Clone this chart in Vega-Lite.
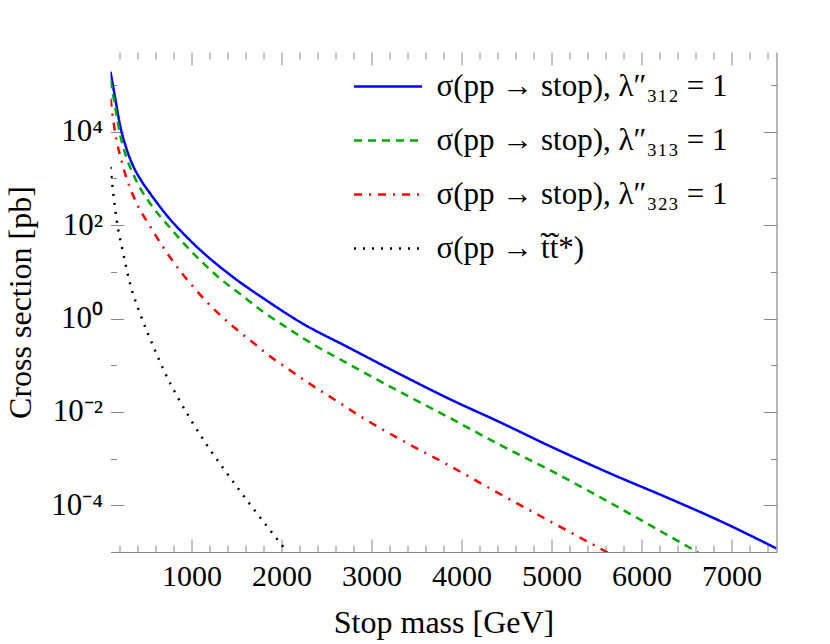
{
  "$schema": "https://vega.github.io/schema/vega-lite/v6.json",
  "width": 666,
  "height": 500,
  "autosize": "none",
  "padding": {"left": 110.5, "top": 52, "right": 53.5, "bottom": 92},
  "background": "white",
  "config": {
    "view": {"stroke": null},
    "font": "Liberation Serif",
    "axis": {"labelFont": "Liberation Serif", "titleFont": "Liberation Serif", "labelColor": "black", "titleColor": "black", "titleFontWeight": "normal", "grid": false, "domainColor": "#888888", "tickColor": "#888888", "tickWidth": 1, "domainWidth": 1.2},
    "legend": {"labelFont": "Liberation Serif", "labelFontSize": 31, "labelColor": "black"}
  },
  "data": {
    "values": [
      {"s": "312", "m": 100, "xs": 192750},
      {"s": "312", "m": 156, "xs": 47320},
      {"s": "312", "m": 206, "xs": 13770},
      {"s": "312", "m": 276, "xs": 4436},
      {"s": "312", "m": 353, "xs": 1824},
      {"s": "312", "m": 439, "xs": 914},
      {"s": "312", "m": 539, "xs": 482},
      {"s": "312", "m": 724, "xs": 163},
      {"s": "312", "m": 983, "xs": 47.5},
      {"s": "312", "m": 1459, "xs": 7.78},
      {"s": "312", "m": 1830, "xs": 2.466},
      {"s": "312", "m": 2200, "xs": 0.855},
      {"s": "312", "m": 2761, "xs": 0.231},
      {"s": "312", "m": 3317, "xs": 0.0641},
      {"s": "312", "m": 3872, "xs": 0.0187},
      {"s": "312", "m": 4428, "xs": 0.00601},
      {"s": "312", "m": 4983, "xs": 0.001845},
      {"s": "312", "m": 5613, "xs": 0.000519},
      {"s": "312", "m": 6353, "xs": 0.0001285},
      {"s": "312", "m": 6872, "xs": 0.0000463},
      {"s": "312", "m": 7500, "xs": 0.0000119},
      {"s": "313", "m": 100, "xs": 126800},
      {"s": "313", "m": 156, "xs": 30340},
      {"s": "313", "m": 206, "xs": 8830},
      {"s": "313", "m": 276, "xs": 2844},
      {"s": "313", "m": 353, "xs": 1230},
      {"s": "313", "m": 439, "xs": 573},
      {"s": "313", "m": 539, "xs": 294},
      {"s": "313", "m": 761, "xs": 87.9},
      {"s": "313", "m": 1076, "xs": 19.3},
      {"s": "313", "m": 1317, "xs": 7.19},
      {"s": "313", "m": 1558, "xs": 3.15},
      {"s": "313", "m": 1798, "xs": 1.384},
      {"s": "313", "m": 2058, "xs": 0.641},
      {"s": "313", "m": 2336, "xs": 0.2915},
      {"s": "313", "m": 2650, "xs": 0.134},
      {"s": "313", "m": 3317, "xs": 0.0268},
      {"s": "313", "m": 3861, "xs": 0.00759},
      {"s": "313", "m": 4420, "xs": 0.002004},
      {"s": "313", "m": 4983, "xs": 0.000565},
      {"s": "313", "m": 5547, "xs": 0.0001469},
      {"s": "313", "m": 6094, "xs": 0.0000375},
      {"s": "313", "m": 6631, "xs": 0.00000975},
      {"s": "323", "m": 100, "xs": 50900},
      {"s": "323", "m": 144, "xs": 11890},
      {"s": "323", "m": 242, "xs": 1738},
      {"s": "323", "m": 391, "xs": 294},
      {"s": "323", "m": 539, "xs": 94.7},
      {"s": "323", "m": 761, "xs": 20.5},
      {"s": "323", "m": 1020, "xs": 4.75},
      {"s": "323", "m": 1281, "xs": 1.384},
      {"s": "323", "m": 1476, "xs": 0.641},
      {"s": "323", "m": 1676, "xs": 0.3155},
      {"s": "323", "m": 1872, "xs": 0.156},
      {"s": "323", "m": 2083, "xs": 0.0809},
      {"s": "323", "m": 2298, "xs": 0.0418},
      {"s": "323", "m": 2502, "xs": 0.0236},
      {"s": "323", "m": 2947, "xs": 0.00664},
      {"s": "323", "m": 3391, "xs": 0.002168},
      {"s": "323", "m": 3836, "xs": 0.000759},
      {"s": "323", "m": 4298, "xs": 0.0002405},
      {"s": "323", "m": 4742, "xs": 0.0000813},
      {"s": "323", "m": 5187, "xs": 0.0000279},
      {"s": "323", "m": 5624, "xs": 0.00000975},
      {"s": "pair", "m": 100, "xs": 1762},
      {"s": "pair", "m": 131, "xs": 475},
      {"s": "pair", "m": 169, "xs": 127.4},
      {"s": "pair", "m": 242, "xs": 24.7},
      {"s": "pair", "m": 317, "xs": 5.61},
      {"s": "pair", "m": 428, "xs": 1.28},
      {"s": "pair", "m": 586, "xs": 0.228},
      {"s": "pair", "m": 706, "xs": 0.0684},
      {"s": "pair", "m": 842, "xs": 0.0214},
      {"s": "pair", "m": 991, "xs": 0.00687},
      {"s": "pair", "m": 1150, "xs": 0.002244},
      {"s": "pair", "m": 1320, "xs": 0.000759},
      {"s": "pair", "m": 1494, "xs": 0.000265},
      {"s": "pair", "m": 1672, "xs": 0.0000925},
      {"s": "pair", "m": 1853, "xs": 0.0000328},
      {"s": "pair", "m": 2039, "xs": 0.00001164}
    ]
  },
  "layer": [
    {
      "mark": {"type": "line", "clip": true, "strokeWidth": 2.5, "interpolate": "monotone"},
      "encoding": {
        "x": {
          "field": "m", "type": "quantitative",
          "scale": {"domain": [100, 7500], "nice": false, "zero": false},
          "axis": {
            "orient": "bottom",
            "values": [200, 400, 600, 800, 1000, 1200, 1400, 1600, 1800, 2000, 2200, 2400, 2600, 2800, 3000, 3200, 3400, 3600, 3800, 4000, 4200, 4400, 4600, 4800, 5000, 5200, 5400, 5600, 5800, 6000, 6200, 6400, 6600, 6800, 7000, 7200, 7400],
            "format": "d",
            "labelExpr": "datum.value % 1000 === 0 ? datum.label : ''",
            "tickSize": {"condition": {"test": "datum.value % 1000 === 0", "value": -13}, "value": -7},
            "labelPadding": 22,
            "labelFontSize": 30,
            "labelOverlap": false,
            "labelBound": false,
            "labelFlush": false,
            "title": "Stop mass [GeV]",
            "titleFontSize": 32,
            "titlePadding": 10
          }
        },
        "y": {
          "field": "xs", "type": "quantitative",
          "scale": {"type": "log", "domain": [0.00001, 510000], "nice": false},
          "axis": {
            "orient": "left",
            "values": [0.0001, 0.001, 0.01, 0.1, 1, 10, 100, 1000, 10000, 100000],
            "labelExpr": "round(log(datum.value)/LN10) === 4 ? '10⁴' : round(log(datum.value)/LN10) === 2 ? '10²' : round(log(datum.value)/LN10) === 0 ? '10⁰' : round(log(datum.value)/LN10) === -2 ? '10⁻²' : round(log(datum.value)/LN10) === -4 ? '10⁻⁴' : ''",
            "tickSize": {"condition": {"test": "abs(round(log(datum.value)/LN10)) % 2 === 0", "value": -13}, "value": -6},
            "domain": false,
            "labelPadding": 21,
            "labelFontSize": 31,
            "labelOverlap": false,
            "labelBound": false,
            "labelFlush": false,
            "title": "Cross section [pb]",
            "titleFontSize": 32,
            "titlePadding": 13
          }
        },
        "color": {
          "field": "s", "type": "nominal",
          "scale": {"domain": ["312", "313", "323", "pair"], "range": ["#0000ff", "#00a800", "#ff0000", "#000000"]},
          "legend": {
            "title": null,
            "orient": "none",
            "legendX": 242,
            "legendY": 19,
            "symbolType": "stroke",
            "symbolSize": 4624,
            "symbolStrokeWidth": 2.5,
            "clipHeight": 31,
            "rowPadding": 22,
            "labelFontSize": 31,
            "labelFont": "Liberation Serif",
            "labelColor": "black",
            "labelOffset": 13,
            "labelLimit": 600,
            "padding": 0,
            "symbolOffset": 0,
            "labelExpr": "datum.value === '312' ? 'σ(pp → stop), λ″₃₁₂ = 1' : datum.value === '313' ? 'σ(pp → stop), λ″₃₁₃ = 1' : datum.value === '323' ? 'σ(pp → stop), λ″₃₂₃ = 1' : 'σ(pp → t̃t̃*)'"
          }
        },
        "strokeDash": {
          "field": "s", "type": "nominal",
          "scale": {"domain": ["312", "313", "323", "pair"], "range": [[1, 0], [8, 6], [8, 7, 2, 7], [2, 7]]}
        }
      }
    },
    {
      "mark": {"type": "point", "opacity": 0, "clip": true},
      "encoding": {
        "x": {
          "field": "m", "type": "quantitative",
          "scale": {"domain": [100, 7500], "nice": false, "zero": false},
          "axis": {
            "orient": "top",
            "values": [200, 400, 600, 800, 1000, 1200, 1400, 1600, 1800, 2000, 2200, 2400, 2600, 2800, 3000, 3200, 3400, 3600, 3800, 4000, 4200, 4400, 4600, 4800, 5000, 5200, 5400, 5600, 5800, 6000, 6200, 6400, 6600, 6800, 7000, 7200, 7400],
            "labels": false,
            "domain": false,
            "tickSize": {"condition": {"test": "datum.value % 1000 === 0", "value": -13}, "value": -7},
            "title": null
          }
        },
        "y": {
          "field": "xs", "type": "quantitative",
          "scale": {"type": "log", "domain": [0.00001, 510000], "nice": false},
          "axis": {
            "orient": "right",
            "values": [0.0001, 0.001, 0.01, 0.1, 1, 10, 100, 1000, 10000, 100000],
            "labels": false,
            "tickSize": {"condition": {"test": "abs(round(log(datum.value)/LN10)) % 2 === 0", "value": -13}, "value": -6},
            "title": null
          }
        }
      }
    }
  ],
  "resolve": {"axis": {"x": "independent", "y": "independent"}}
}
